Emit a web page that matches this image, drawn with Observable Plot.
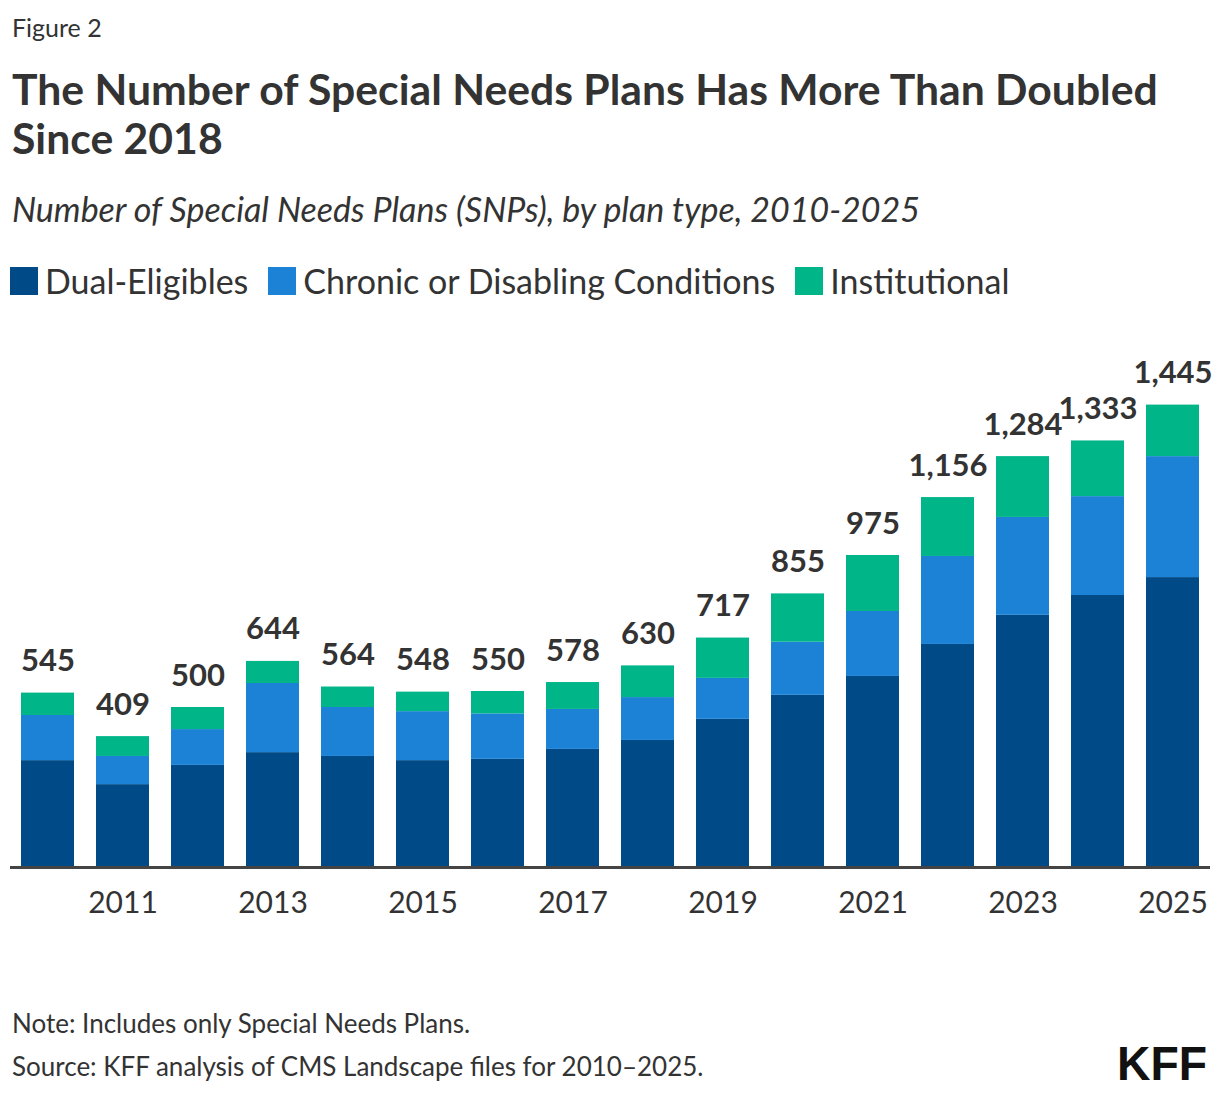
<!DOCTYPE html>
<html>
<head>
<meta charset="utf-8">
<script src="https://cdn.jsdelivr.net/npm/d3@7"></script>
<script src="https://cdn.jsdelivr.net/npm/@observablehq/plot@0.6"></script>
<style>
  html, body { margin: 0; padding: 0; background: #fff; }
  body { width: 1220px; height: 1094px; position: relative; overflow: hidden; font-family: Lato, "Noto Sans", sans-serif; color: #333; }
  .abs { position: absolute; left: 12px; white-space: nowrap; }
  #fig { top: 15px; font-size: 25px; line-height: 25px; }
  #title { top: 64px; font-size: 42.7px; line-height: 49px; font-weight: 700; }
  #sub { top: 192px; font-size: 34px; line-height: 34px; font-style: italic; }
  #legend { top: 264px; left: 10px; font-size: 34px; line-height: 34px; display: flex; align-items: center; }
  .sw { width: 28px; height: 28px; display: inline-block; margin-right: 7px; }
  .item { display: flex; align-items: center; margin-right: 20px; }
  #chart { position: absolute; left: 0; top: 330px; }
  #note { top: 1010px; font-size: 26px; line-height: 26px; }
  #source { top: 1053px; font-size: 26px; line-height: 26px; }
  #logo { position: absolute; left: 1100px; top: 1036px; }
</style>
</head>
<body>
<div class="abs" id="fig">Figure 2</div>
<div class="abs" id="title">The Number of Special Needs Plans Has More Than Doubled<br>Since 2018</div>
<div class="abs" id="sub">Number of Special Needs Plans (SNPs), by plan type, 2010-2025</div>
<div class="abs" id="legend"></div>
<div id="chart"></div>
<div class="abs" id="note">Note: Includes only Special Needs Plans.</div>
<div class="abs" id="source">Source: KFF analysis of CMS Landscape files for 2010–2025.</div>
<svg id="logo" width="118" height="56"><text x="17" y="44" textLength="90" lengthAdjust="spacingAndGlyphs" font-family="'Liberation Sans Narrow', 'Liberation Sans', sans-serif" font-weight="700" font-size="48" fill="#111">KFF</text></svg>
<script>
const years = [2010, 2011, 2012, 2013, 2014, 2015, 2016, 2017, 2018, 2019, 2020, 2021, 2022, 2023, 2024, 2025];
const dualEligibles = [334, 259, 319, 359, 347, 334, 338, 369, 397, 463, 538, 597, 697, 788, 850, 906];
const chronicDisabling = [141, 88, 112, 216, 153, 153, 142, 125, 134, 128, 166, 203, 275, 306, 309, 378];
const institutional = [70, 62, 69, 69, 64, 61, 70, 84, 99, 126, 151, 175, 184, 190, 174, 161];
const totals = [545, 409, 500, 644, 564, 548, 550, 578, 630, 717, 855, 975, 1156, 1284, 1333, 1445];
const seriesNames = ["Dual-Eligibles", "Chronic or Disabling Conditions", "Institutional"];
const seriesColors = ["#004a87", "#1c82d6", "#00b588"];
const tickYears = [2011, 2013, 2015, 2017, 2019, 2021, 2023, 2025];

const seriesValues = [dualEligibles, chronicDisabling, institutional];
const rows = [];
seriesNames.forEach((name, s) => {
  years.forEach((yr, i) => rows.push({year: yr, type: name, value: seriesValues[s][i]}));
});
const totalRows = years.map((yr, i) => ({year: yr, total: totals[i]}));

// legend
const legend = document.getElementById("legend");
seriesNames.forEach((name, i) => {
  const it = document.createElement("div");
  it.className = "item";
  const sw = document.createElement("span");
  sw.className = "sw";
  sw.style.background = seriesColors[i];
  it.appendChild(sw);
  it.appendChild(document.createTextNode(name));
  legend.appendChild(it);
});

const chart = Plot.plot({
  width: 1220,
  height: 630,
  marginLeft: 10,
  marginRight: 10,
  marginTop: 57,
  marginBottom: 93,
  style: {fontFamily: "Lato, 'Noto Sans', sans-serif", color: "#333", background: "transparent"},
  x: {type: "band", domain: years, paddingInner: 0.296, paddingOuter: 0.118, label: null, ticks: tickYears, tickSize: 0, tickPadding: 24},
  y: {domain: [0, 1500], axis: null},
  color: {domain: seriesNames, range: seriesColors},
  marks: [
    Plot.barY(rows, {x: "year", y: "value", fill: "type", order: seriesNames}),
    Plot.ruleY([0], {stroke: "#444", strokeWidth: 3}),
    Plot.text(totalRows, {x: "year", y: "total", text: d => d3.format(",")(d.total), lineAnchor: "bottom", dy: -22, fontSize: 31, fontWeight: 700, fill: "#333"}),
    Plot.axisX({ticks: tickYears, tickSize: 0, tickPadding: 24, fontSize: 30, label: null, tickFormat: d => String(d)})
  ]
});
document.getElementById("chart").appendChild(chart);
</script>
</body>
</html>
